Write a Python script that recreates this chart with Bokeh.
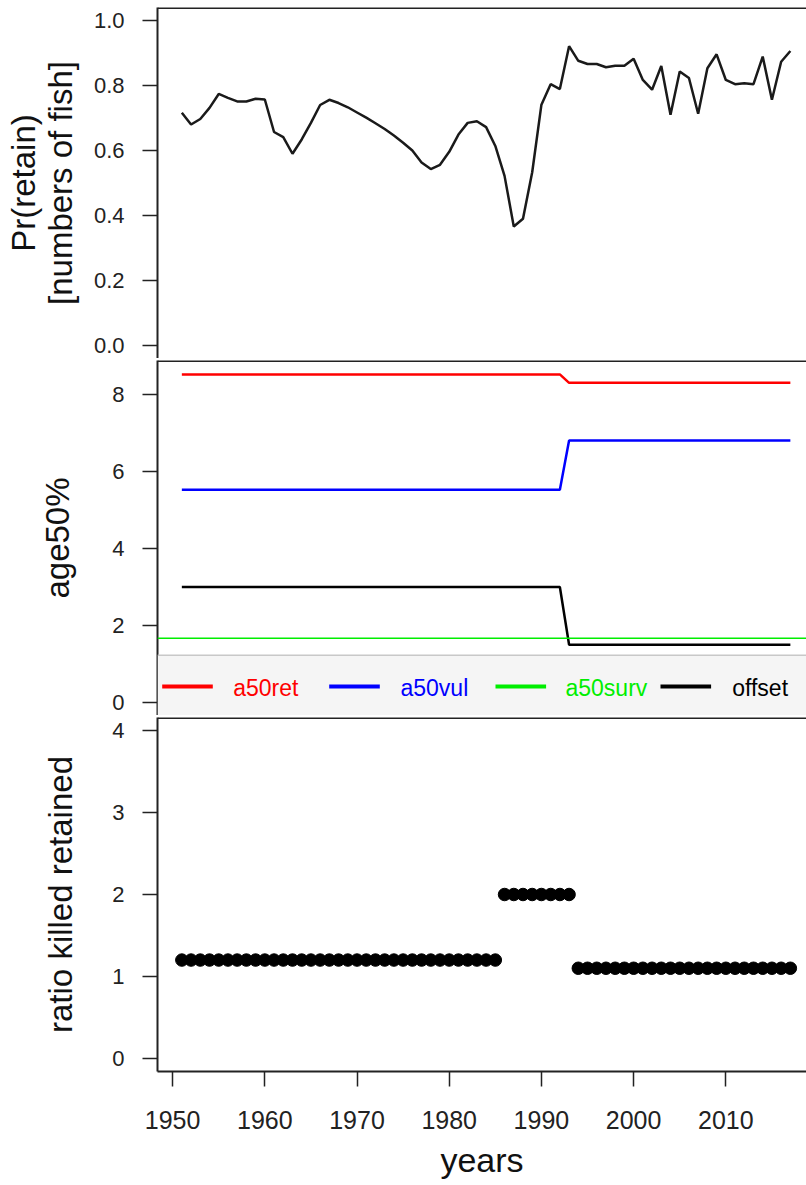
from bokeh.plotting import figure
from bokeh.layouts import column
from bokeh.models import Range1d, Span, BoxAnnotation, Label, FixedTicker, PrintfTickFormatter
from bokeh.embed import file_html
from bokeh.resources import INLINE

# ---------------- data ----------------
years = list(range(1951, 2018))

pr_retain = [0.716, 0.680, 0.697, 0.731, 0.774, 0.762, 0.751, 0.751, 0.759, 0.757,
             0.657, 0.641, 0.590, 0.634, 0.685, 0.740, 0.756, 0.746, 0.733, 0.717,
             0.701, 0.684, 0.666, 0.646, 0.624, 0.600, 0.563, 0.543, 0.556, 0.596,
             0.649, 0.685, 0.690, 0.672, 0.614, 0.522, 0.366, 0.390, 0.533, 0.741,
             0.804, 0.789, 0.921, 0.876, 0.866, 0.866, 0.856, 0.861, 0.861, 0.882,
             0.817, 0.787, 0.860, 0.710, 0.843, 0.823, 0.713, 0.853, 0.896, 0.817,
             0.804, 0.807, 0.804, 0.889, 0.756, 0.873, 0.906]

a50ret = [8.53, 8.53, 8.53, 8.53, 8.53, 8.53, 8.53, 8.53, 8.53, 8.53,
          8.53, 8.53, 8.53, 8.53, 8.53, 8.53, 8.53, 8.53, 8.53, 8.53,
          8.53, 8.53, 8.53, 8.53, 8.53, 8.53, 8.53, 8.53, 8.53, 8.53,
          8.53, 8.53, 8.53, 8.53, 8.53, 8.53, 8.53, 8.53, 8.53, 8.53,
          8.53, 8.53, 8.31, 8.31, 8.31, 8.31, 8.31, 8.31, 8.31, 8.31,
          8.31, 8.31, 8.31, 8.31, 8.31, 8.31, 8.31, 8.31, 8.31, 8.31,
          8.31, 8.31, 8.31, 8.31, 8.31, 8.31, 8.31]

a50vul = [5.53, 5.53, 5.53, 5.53, 5.53, 5.53, 5.53, 5.53, 5.53, 5.53,
          5.53, 5.53, 5.53, 5.53, 5.53, 5.53, 5.53, 5.53, 5.53, 5.53,
          5.53, 5.53, 5.53, 5.53, 5.53, 5.53, 5.53, 5.53, 5.53, 5.53,
          5.53, 5.53, 5.53, 5.53, 5.53, 5.53, 5.53, 5.53, 5.53, 5.53,
          5.53, 5.53, 6.81, 6.81, 6.81, 6.81, 6.81, 6.81, 6.81, 6.81,
          6.81, 6.81, 6.81, 6.81, 6.81, 6.81, 6.81, 6.81, 6.81, 6.81,
          6.81, 6.81, 6.81, 6.81, 6.81, 6.81, 6.81]

offset = [3.0, 3.0, 3.0, 3.0, 3.0, 3.0, 3.0, 3.0, 3.0, 3.0,
          3.0, 3.0, 3.0, 3.0, 3.0, 3.0, 3.0, 3.0, 3.0, 3.0,
          3.0, 3.0, 3.0, 3.0, 3.0, 3.0, 3.0, 3.0, 3.0, 3.0,
          3.0, 3.0, 3.0, 3.0, 3.0, 3.0, 3.0, 3.0, 3.0, 3.0,
          3.0, 3.0, 1.5, 1.5, 1.5, 1.5, 1.5, 1.5, 1.5, 1.5,
          1.5, 1.5, 1.5, 1.5, 1.5, 1.5, 1.5, 1.5, 1.5, 1.5,
          1.5, 1.5, 1.5, 1.5, 1.5, 1.5, 1.5]

a50surv = 1.67

ratio_killed = [1.2, 1.2, 1.2, 1.2, 1.2, 1.2, 1.2, 1.2, 1.2, 1.2,
                1.2, 1.2, 1.2, 1.2, 1.2, 1.2, 1.2, 1.2, 1.2, 1.2,
                1.2, 1.2, 1.2, 1.2, 1.2, 1.2, 1.2, 1.2, 1.2, 1.2,
                1.2, 1.2, 1.2, 1.2, 1.2, 2.0, 2.0, 2.0, 2.0, 2.0,
                2.0, 2.0, 2.0, 1.1, 1.1, 1.1, 1.1, 1.1, 1.1, 1.1,
                1.1, 1.1, 1.1, 1.1, 1.1, 1.1, 1.1, 1.1, 1.1, 1.1,
                1.1, 1.1, 1.1, 1.1, 1.1, 1.1, 1.1]

x_ticks = [1950, 1960, 1970, 1980, 1990, 2000, 2010]
y1_ticks = [0.0, 0.2, 0.4, 0.6, 0.8, 1.0]
y2_ticks = [0, 2, 4, 6, 8]
y3_ticks = [0, 1, 2, 3, 4]

legend_labels = ["a50ret", "a50vul", "a50surv", "offset"]
legend_colors = ["#ff0000", "#0000ff", "#00ee00", "#000000"]

# ---------------- style ----------------
FONT = "Liberation Sans, Arial, sans-serif"
FRAME = "#222222"
LEFT = 157

x_range = Range1d(1948.36, 2018.75)


def make_fig(height, y_range, top=0, bottom=0, xaxis=False):
    p = figure(width=806, height=height, x_range=x_range, y_range=y_range,
               output_backend="svg", toolbar_location=None,
               min_border_left=LEFT, min_border_right=0,
               min_border_top=top, min_border_bottom=bottom,
               x_axis_location="below" if xaxis else None)
    p.grid.visible = False
    p.outline_line_color = None
    p.background_fill_color = "white"
    p.border_fill_color = "white"
    ax = p.yaxis[0]
    ax.axis_line_color = FRAME
    ax.axis_line_width = 2
    ax.major_tick_out = 15
    ax.major_tick_in = 0
    ax.minor_tick_out = 0
    ax.minor_tick_in = 0
    ax.major_tick_line_color = FRAME
    ax.major_tick_line_width = 1.5
    ax.major_label_text_font = FONT
    ax.major_label_text_font_size = "22px"
    ax.major_label_text_color = "#222222"
    ax.major_label_standoff = 18
    ax.axis_label_text_font = FONT
    ax.axis_label_text_font_size = "33px"
    ax.axis_label_text_font_style = "normal"
    ax.axis_label_text_color = "#111111"
    ax.axis_label_text_line_height = 1.0
    # frame top border
    p.add_layout(Span(location=y_range.end, dimension="width",
                      line_color=FRAME, line_width=3))
    return p


# ---------------- panel 1 ----------------
p1 = make_fig(358, Range1d(-0.04, 1.04), top=7)
p1.yaxis[0].ticker = FixedTicker(ticks=y1_ticks)
p1.yaxis[0].formatter = PrintfTickFormatter(format="%.1f")
p1.yaxis[0].axis_label = "Pr(retain)\n[numbers of fish]"
p1.yaxis[0].axis_label_standoff = 12
p1.line(years, pr_retain, line_color="#1a1a1a", line_width=2.5)

# ---------------- panel 2 ----------------
p2 = make_fig(357, Range1d(-0.342, 8.892), top=2)
p2.yaxis[0].ticker = FixedTicker(ticks=y2_ticks)
p2.yaxis[0].axis_label = "age50%"
p2.yaxis[0].axis_label_standoff = 33
p2.line(years, a50ret, line_color=legend_colors[0], line_width=2.5)
p2.line(years, a50vul, line_color=legend_colors[1], line_width=2.5)
p2.line(years, offset, line_color=legend_colors[3], line_width=2.5)
p2.add_layout(Span(location=a50surv, dimension="width",
                   line_color="#00ee00", line_width=1.5))

# legend (R-style horizontal legend box at the bottom of the panel)
p2.add_layout(BoxAnnotation(top=60, top_units="screen", fill_color="#f5f5f5",
                            fill_alpha=1, line_color=None, level="overlay"))
p2.add_layout(BoxAnnotation(top=61, bottom=59.5, top_units="screen", bottom_units="screen",
                            fill_color="#c8c8c8", fill_alpha=1, line_color=None,
                            level="overlay"))
leg_line_x = [4.7, 171.7, 338, 503]
leg_text_x = [75.7, 243, 408, 574.7]
for lab, col, lx, tx in zip(legend_labels, legend_colors, leg_line_x, leg_text_x):
    p2.add_layout(BoxAnnotation(left=lx, right=lx + 50.6, bottom=27.0, top=31.0,
                                left_units="screen", right_units="screen",
                                bottom_units="screen", top_units="screen",
                                fill_color=col, fill_alpha=1, line_color=None,
                                level="overlay"))
    p2.add_layout(Label(x=tx, y=28, x_units="screen", y_units="screen", text=lab,
                        text_color=col, text_font=FONT, text_font_size="23px",
                        text_baseline="middle", level="overlay"))

# ---------------- panel 3 ----------------
p3 = make_fig(470, Range1d(-0.16, 4.16), top=2, bottom=114, xaxis=True)
p3.yaxis[0].ticker = FixedTicker(ticks=y3_ticks)
p3.yaxis[0].axis_label = "ratio killed retained"
p3.yaxis[0].axis_label_standoff = 30
p3.scatter(years, ratio_killed, size=12.5, fill_color="black", line_color="black")
xa = p3.xaxis[0]
xa.ticker = FixedTicker(ticks=x_ticks)
xa.axis_line_color = FRAME
xa.axis_line_width = 2
xa.major_tick_out = 15
xa.major_tick_in = 0
xa.minor_tick_out = 0
xa.minor_tick_in = 0
xa.major_tick_line_color = FRAME
xa.major_tick_line_width = 1.5
xa.major_label_text_font = FONT
xa.major_label_text_font_size = "25px"
xa.major_label_text_color = "#222222"
xa.major_label_standoff = 24
xa.axis_label = "years"
xa.axis_label_text_font = FONT
xa.axis_label_text_font_size = "34px"
xa.axis_label_text_font_style = "normal"
xa.axis_label_text_color = "#111111"
xa.axis_label_standoff = 9

layout = column(p1, p2, p3, spacing=0)
open("out.html", "w").write(file_html(layout, INLINE))
